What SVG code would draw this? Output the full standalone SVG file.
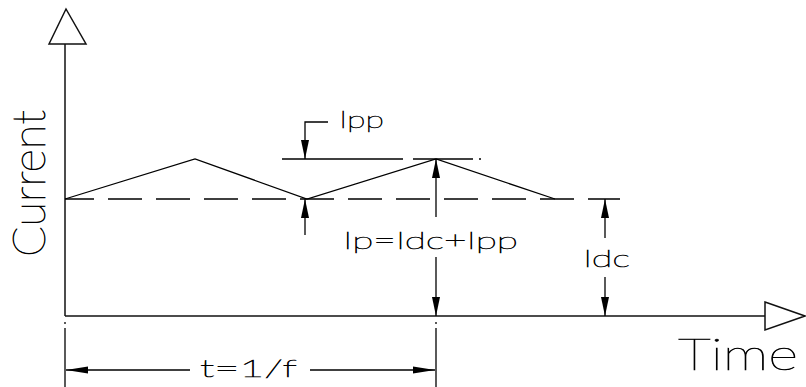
<svg xmlns="http://www.w3.org/2000/svg" width="806" height="387" viewBox="0 0 806 387">
<style>
.ln{stroke:#000;stroke-width:1.3;fill:none}
.ax{stroke:#111;stroke-width:1.5;fill:none}
.ah{fill:#000;stroke:none}
.tx{font-family:Lato,"DejaVu Sans","Liberation Sans",sans-serif;font-weight:200;fill:#000;stroke:#000;stroke-width:0.6}
.big{stroke-width:0.7}
</style>
<defs>
<polygon id="arrDown" points="0,0 -4,-19 4,-19"/>
<polygon id="arrUp" points="0,0 -4,19 4,19"/>
<polygon id="arrLeft" points="0,0 22,-3.5 22,3.5"/>
<polygon id="arrRight" points="0,0 -22,-3.5 -22,3.5"/>
</defs>
<rect width="806" height="387" fill="#fff"/>
<g id="axes">
<line class="ax" x1="65" y1="44" x2="65" y2="316"/>
<polygon class="ax" points="49,44 66,9 86,44"/>
<line class="ax" x1="65" y1="316" x2="765" y2="316"/>
<polygon class="ax" points="765,302 805,316 765,330"/>
<text class="tx big" x="45" y="257" font-size="46" transform="rotate(-90 45 257)" textLength="147" lengthAdjust="spacingAndGlyphs">Current</text>
<text class="tx big" x="678" y="370" font-size="44" textLength="120" lengthAdjust="spacingAndGlyphs">Time</text>
</g>
<g id="waveform">
<polyline class="ln" points="65,199 195,159 307,199 436,159 555,199"/>
<line class="ln" x1="65" y1="199" x2="620" y2="199" stroke-dasharray="34 14" stroke-dashoffset="5"/>
<line class="ln" x1="282" y1="159" x2="403" y2="159"/>
<line class="ln" x1="413" y1="159" x2="473" y2="159"/>
<line class="ln" x1="479" y1="159" x2="481" y2="159"/>
</g>
<g id="connectors">
<polyline class="ln" points="328,122 305,122 305,159"/>
<use href="#arrDown" x="305" y="159" class="ah"/>
<line class="ln" x1="305" y1="199" x2="305" y2="235"/>
<use href="#arrUp" x="305" y="199" class="ah"/>
<line class="ln" x1="436" y1="159" x2="436" y2="217"/>
<use href="#arrUp" x="436" y="159" class="ah"/>
<line class="ln" x1="436" y1="257" x2="436" y2="316"/>
<use href="#arrDown" x="436" y="316" class="ah"/>
<line class="ln" x1="605" y1="199" x2="605" y2="238"/>
<use href="#arrUp" x="605" y="199" class="ah"/>
<line class="ln" x1="605" y1="277" x2="605" y2="316"/>
<use href="#arrDown" x="605" y="316" class="ah"/>
<line class="ln" x1="65" y1="322" x2="65" y2="324"/>
<line class="ln" x1="65" y1="328" x2="65" y2="387"/>
<line class="ln" x1="436" y1="322" x2="436" y2="324"/>
<line class="ln" x1="436" y1="328" x2="436" y2="387"/>
<line class="ln" x1="66" y1="370" x2="190" y2="370"/>
<line class="ln" x1="310" y1="370" x2="435" y2="370"/>
<use href="#arrLeft" x="66" y="370" class="ah"/>
<use href="#arrRight" x="435" y="370" class="ah"/>
</g>
<g id="labels">
<text class="tx" x="339" y="128" font-size="24" textLength="45" lengthAdjust="spacingAndGlyphs">Ipp</text>
<text class="tx" x="343" y="249" font-size="24" textLength="175" lengthAdjust="spacingAndGlyphs">Ip=Idc+Ipp</text>
<text class="tx" x="583" y="267" font-size="24" textLength="47" lengthAdjust="spacingAndGlyphs">Idc</text>
<text class="tx" x="200" y="377" font-size="24" textLength="97" lengthAdjust="spacingAndGlyphs">t=1/f</text>
</g>
</svg>
